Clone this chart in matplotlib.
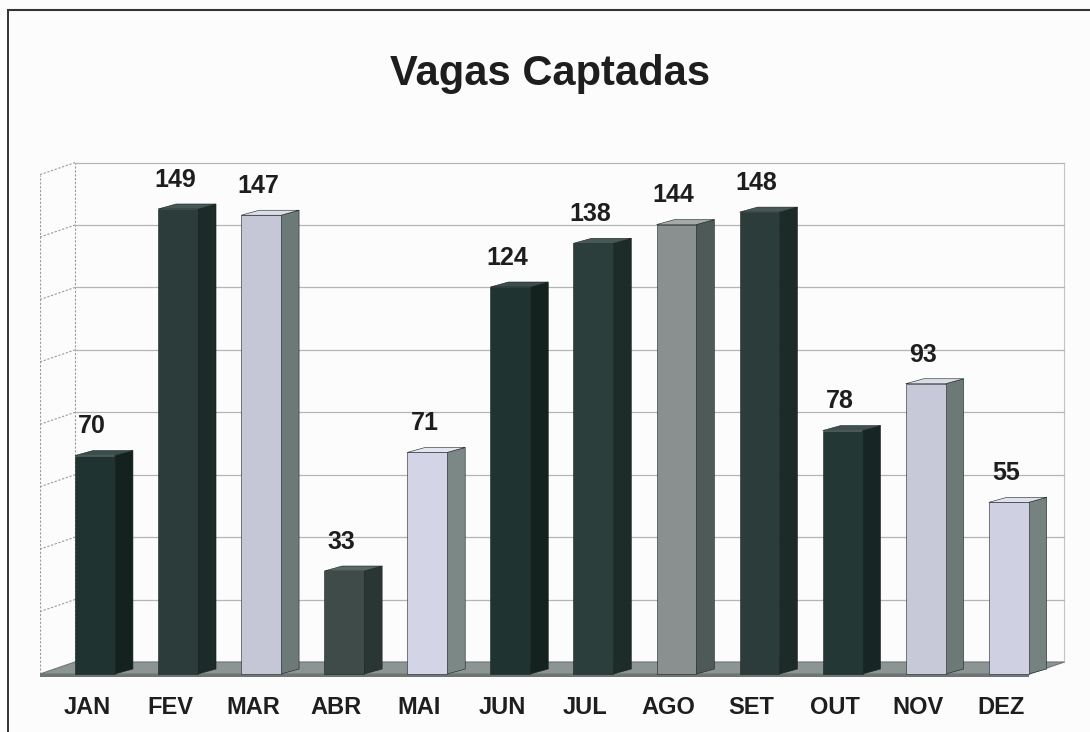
import numpy as np
import matplotlib.pyplot as plt
from matplotlib.patches import Polygon
from matplotlib.lines import Line2D
from matplotlib.transforms import ScaledTranslation

months = ["JAN", "FEV", "MAR", "ABR", "MAI", "JUN", "JUL", "AGO", "SET", "OUT", "NOV", "DEZ"]
vagas = [70, 149, 147, 33, 71, 124, 138, 144, 148, 78, 93, 55]
front_colors = ["#1f3431", "#2b3c3a", "#c5c7d6", "#3e4b49", "#d3d5e6", "#1f3431",
                "#2c3e3c", "#8a9090", "#2b3c3a", "#233734", "#c7c9d8", "#cfd0e1"]
side_colors = ["#14221f", "#1c2a28", "#6c7977", "#293634", "#7c8886", "#14221f",
               "#1d2b29", "#4e5a58", "#1c2a28", "#172624", "#6c7977", "#76827f"]
top_colors = ["#3a4e4b", "#465856", "#dcdde8", "#5a6765", "#e4e5f0", "#3a4e4b",
              "#475957", "#a4aaaa", "#465856", "#3d514e", "#dcdde8", "#e0e1ec"]

plt.rcParams["font.family"] = ["Liberation Sans", "DejaVu Sans"]
text_color = "#1e1e1e"
grid_color = "#9a9a9a"

fig = plt.figure(figsize=(10.9, 7.32), dpi=100)
fig.patch.set_facecolor("#fcfcfd")
ax = fig.add_axes([40 / 1090, 40 / 732, 1031 / 1090, 542 / 732])
ax.set_facecolor("none")
ax.set_xlim(-0.662, 11.75)
ax.set_ylim(-5.77, 167.9)
for s in ax.spines.values():
    s.set_visible(False)

x = np.arange(len(months))
wall_top = 160
dx, dy = 0.421, 3.85          # depth of the chart walls
xl, xr = -0.662, 11.25        # front left / right of floor

# side wall and back wall
ax.plot([xl, xl], [0, wall_top], color=grid_color, lw=0.8, ls=(0, (2, 1.5)), zorder=1)
ax.plot([xl + dx, xl + dx], [dy, wall_top + dy], color=grid_color, lw=0.8, ls=(0, (2, 1.5)), zorder=1)
ax.plot([xr + dx, xr + dx], [dy, wall_top + dy], color="#c4c4c4", lw=0.8, zorder=1)
for v in range(20, wall_top + 1, 20):
    ax.plot([xl, xl + dx], [v, v + dy], color=grid_color, lw=0.8, ls=(0, (2, 1.5)), zorder=1)
    ax.plot([xl + dx, xr + dx], [v + dy, v + dy], color="#b5b5b5", lw=0.9, zorder=1)

# floor
ax.add_patch(Polygon([(xl, 0), (xr, 0), (xr + dx, dy), (xl + dx, dy)],
                     closed=True, facecolor="#8d9494", edgecolor="#6e7575", lw=0.8, zorder=2))
ax.add_patch(Polygon([(xl, 0), (xr, 0), (xr, -0.9), (xl, -0.9)],
                     closed=True, facecolor="#6e7575", edgecolor="none", zorder=2))

# bars: front face, side face, top face
w, d, sdy = 0.48, 0.217, 1.6
ax.bar(x, vagas, width=w, color=front_colors, edgecolor="#1a2220", linewidth=0.4, zorder=4)
for xi, v, sc, tc in zip(x, vagas, side_colors, top_colors):
    r = xi + w / 2
    ax.add_patch(Polygon([(r, 0), (r + d, sdy), (r + d, v + sdy), (r, v)],
                         closed=True, facecolor=sc, edgecolor="#1a2220", lw=0.4, zorder=3))
    ax.add_patch(Polygon([(xi - w / 2, v), (r, v), (r + d, v + sdy), (xi - w / 2 + d, v + sdy)],
                         closed=True, facecolor=tc, edgecolor="#1a2220", lw=0.4, zorder=5))
    ax.annotate(str(v), (xi, v), xytext=(-2, 16), textcoords="offset points",
                ha="center", va="baseline", fontsize=18, fontweight="bold", color=text_color)

ax.set_yticks([])
ax.set_xticks(x)
ax.set_xticklabels(months, fontsize=17, fontweight="bold", color=text_color)
ax.tick_params(axis="x", length=0, pad=3)
shift = ScaledTranslation(-8 / 100, 0, fig.dpi_scale_trans)
for lbl in ax.get_xticklabels():
    lbl.set_transform(lbl.get_transform() + shift)

fig.text(550 / 1090, 1 - 74 / 732, "Vagas Captadas", ha="center", va="center",
         fontsize=30, fontweight="bold", color=text_color)

# outer frame of the scanned page
fig.add_artist(Line2D([8 / 1090, 8 / 1090], [0, 1 - 10 / 732], transform=fig.transFigure,
                      color="#222222", lw=1.3))
fig.add_artist(Line2D([8 / 1090, 1], [1 - 10 / 732, 1 - 10 / 732], transform=fig.transFigure,
                      color="#333333", lw=1.5))

fig.savefig("out.png", dpi=100, facecolor=fig.get_facecolor())
